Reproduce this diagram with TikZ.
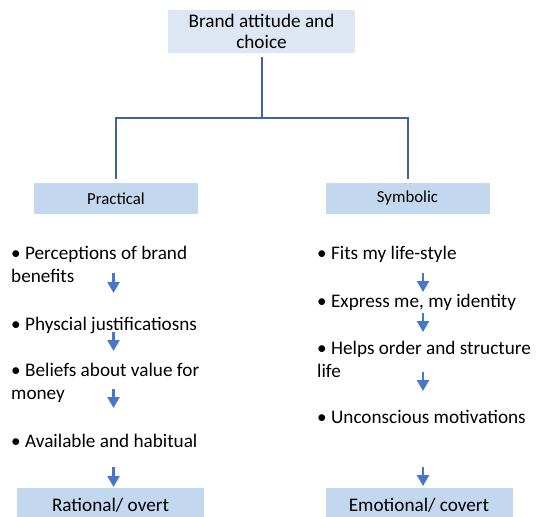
\documentclass[tikz,border=0pt]{standalone}
\usepackage{fontspec}
\setmainfont{Carlito}
\usetikzlibrary{arrows.meta}
\definecolor{topfill}{HTML}{DDE7F3}
\definecolor{boxfill}{HTML}{C3D8EE}
\definecolor{conn}{HTML}{3F62A2}
\definecolor{arr}{HTML}{4777C6}
\tikzset{
 topbox/.style={fill=topfill, minimum width=187pt, minimum height=43pt, inner sep=0pt, align=center, font=\fontsize{19.2}{21.5}\selectfont},
 catbox/.style={fill=boxfill, minimum width=164pt, minimum height=31pt, inner sep=0pt, font=\fontsize{16.8}{19}\selectfont},
 endbox/.style={fill=boxfill, minimum width=187pt, minimum height=34pt, inner sep=0pt, font=\fontsize{19.2}{22}\selectfont},
 item/.style={anchor=base west, inner sep=0pt, align=left, font=\fontsize{19.2}{23}\selectfont},
 tree/.style={draw=conn, line width=2pt},
 flow/.style={draw=arr, line width=2.4pt, -{Triangle[width=12pt,length=11pt]}}
}
\begin{document}
\begin{tikzpicture}[x=1pt,y=-1pt]
\fill[white] (0,0) rectangle (536,517);
\clip (0,0) rectangle (536,517);
\node[topbox] (top) at (261.5,31.5) {Brand attitude and\\choice};
\node[catbox] (prac) at (116,198.5) {Practical};
\node[catbox] (sym) at (407.5,198.5) {Symbolic};
\coordinate (j) at (261.5,118);
\draw[tree] ([yshift=-4pt]top.south) -- (j);
\draw[tree] ([yshift=4pt]prac.north) |- (j) -| ([yshift=4pt]sym.north);
% left column
\node[item] (p1) at (11,282) {• Perceptions of brand\\benefits};
\node[item] (p2) at (11,330) {• Physcial justificatiosns};
\node[item] (p3) at (11,399) {• Beliefs about value for\\money};
\node[item] (p4) at (11,447) {• Available and habitual};
\node[endbox] (rat) at (110.5,505) {Rational/ overt};
% right column
\node[item] (s1) at (317,259) {• Fits my life-style};
\node[item] (s2) at (317,307) {• Express me, my identity};
\node[item] (s3) at (317,377) {• Helps order and structure\\life};
\node[item] (s4) at (317,423) {• Unconscious motivations};
\node[endbox] (emo) at (419,505) {Emotional/ covert};
% arrows left
\coordinate (l1a) at (113.5,273); \coordinate (l1b) at (113.5,293);
\coordinate (l2a) at (113.5,332); \coordinate (l2b) at (113.5,351);
\coordinate (l3a) at (113.5,389); \coordinate (l3b) at (113.5,408);
\coordinate (l4a) at (113.5,467); \coordinate (l4b) at (113.5,487);
\draw[flow] (l1a) -- (l1b);
\draw[flow] (l2a) -- (l2b);
\draw[flow] (l3a) -- (l3b);
\draw[flow] (l4a) -- (l4b);
% arrows right
\coordinate (r1a) at (423,273); \coordinate (r1b) at (423,292);
\coordinate (r2a) at (423,313); \coordinate (r2b) at (423,332);
\coordinate (r3a) at (423,372); \coordinate (r3b) at (423,391);
\coordinate (r4a) at (423,467); \coordinate (r4b) at (423,486);
\draw[flow] (r1a) -- (r1b);
\draw[flow] (r2a) -- (r2b);
\draw[flow] (r3a) -- (r3b);
\draw[flow] (r4a) -- (r4b);
\end{tikzpicture}
\end{document}
